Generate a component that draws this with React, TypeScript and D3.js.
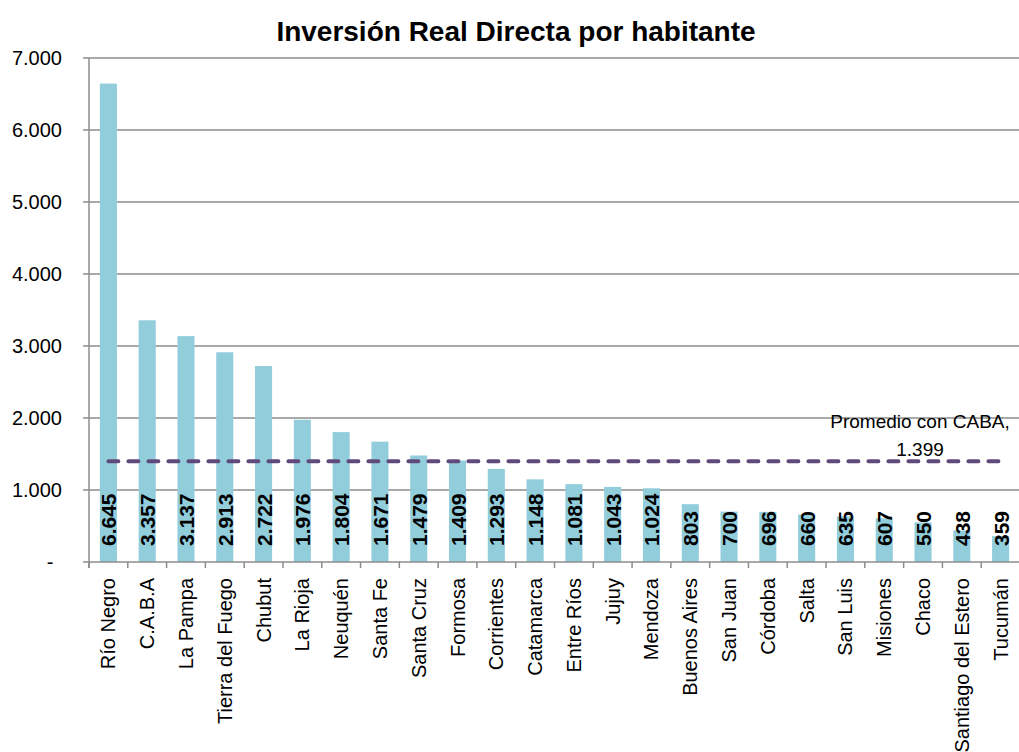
import React from "react";
import * as d3 from "d3";

const categories = [
  "Río Negro", "C.A.B.A", "La Pampa", "Tierra del Fuego", "Chubut", "La Rioja",
  "Neuquén", "Santa Fe", "Santa Cruz", "Formosa", "Corrientes", "Catamarca",
  "Entre Ríos", "Jujuy", "Mendoza", "Buenos Aires", "San Juan", "Córdoba",
  "Salta", "San Luis", "Misiones", "Chaco", "Santiago del Estero", "Tucumán",
];
const values = [
  6645, 3357, 3137, 2913, 2722, 1976, 1804, 1671, 1479, 1409, 1293, 1148,
  1081, 1043, 1024, 803, 700, 696, 660, 635, 607, 550, 438, 359,
];
const average = 1399;
const yTicks = [0, 1000, 2000, 3000, 4000, 5000, 6000, 7000];
const title = "Inversión Real Directa por habitante";
const avgLabel = ["Promedio con CABA,", "1.399"];

const W = 1019;
const H = 752;
const left = 89;
const right = 1020;
const top = 58;
const bottom = 562;

const fmt = (v: number) => (v === 0 ? "-" : d3.format(",")(v).replace(/,/g, "."));

export default function App() {
  const x = d3
    .scaleBand<string>()
    .domain(categories)
    .range([left, right])
    .paddingInner(0.56)
    .paddingOuter(0.28);
  const y = d3.scaleLinear().domain([0, 7000]).range([bottom, top]);
  const step = x.step();
  const font = "'Liberation Sans', Arial, sans-serif";
  const gridColor = "#8c8c8c";
  const cx = (c: string) => (x(c) as number) + x.bandwidth() / 2;

  return (
    <svg
      width={W}
      height={H}
      style={{ position: "absolute", left: 0, top: 0, display: "block", background: "#fff" }}
      fontFamily={font}
    >
      <text x={516} y={41} textAnchor="middle" fontSize={28} fontWeight="bold" fill="#000">
        {title}
      </text>

      {/* gridlines */}
      {yTicks.map((t) => (
        <g key={t}>
          {t > 0 && (
            <line x1={left} x2={right} y1={y(t)} y2={y(t)} stroke={gridColor} strokeWidth={1.5} />
          )}
          <line x1={left - 6} x2={left} y1={y(t)} y2={y(t)} stroke={gridColor} strokeWidth={1.5} />
          <text
            x={t === 0 ? 50 : 62}
            y={y(t) + 7}
            textAnchor={t === 0 ? "middle" : "end"}
            fontSize={20}
            fill="#000"
          >
            {fmt(t)}
          </text>
        </g>
      ))}

      {/* bars */}
      {categories.map((c, i) => (
        <rect
          key={c}
          x={x(c)}
          y={y(values[i])}
          width={x.bandwidth()}
          height={y(0) - y(values[i])}
          fill="#92CDDC"
        />
      ))}

      {/* axes */}
      <line x1={left} x2={left} y1={top} y2={bottom + 6} stroke={gridColor} strokeWidth={1.5} />
      <line x1={left} x2={right} y1={bottom} y2={bottom} stroke={gridColor} strokeWidth={1.5} />
      {d3.range(categories.length + 1).map((i) => (
        <line
          key={i}
          x1={left + i * step}
          x2={left + i * step}
          y1={bottom}
          y2={bottom + 6}
          stroke={gridColor}
          strokeWidth={1.5}
        />
      ))}

      {/* average line */}
      <line
        x1={cx(categories[0])}
        x2={cx(categories[categories.length - 1])}
        y1={y(average)}
        y2={y(average)}
        stroke="#604A7B"
        strokeWidth={4}
        strokeDasharray="10 10"
        strokeLinecap="round"
      />
      <text x={920} y={428} textAnchor="middle" fontSize={19} fill="#000">
        {avgLabel[0]}
      </text>
      <text x={920} y={456} textAnchor="middle" fontSize={19} fill="#000">
        {avgLabel[1]}
      </text>

      {/* data labels */}
      {categories.map((c, i) => (
        <text
          key={c}
          transform={`translate(${cx(c) + 8},546) rotate(-90)`}
          textAnchor="start"
          fontSize={21}
          fontWeight="bold"
          fill="#000"
        >
          {fmt(values[i])}
        </text>
      ))}

      {/* category labels */}
      {categories.map((c) => (
        <text
          key={c}
          transform={`translate(${cx(c) + 7},578) rotate(-90)`}
          textAnchor="end"
          fontSize={20}
          fill="#000"
        >
          {c}
        </text>
      ))}
    </svg>
  );
}
